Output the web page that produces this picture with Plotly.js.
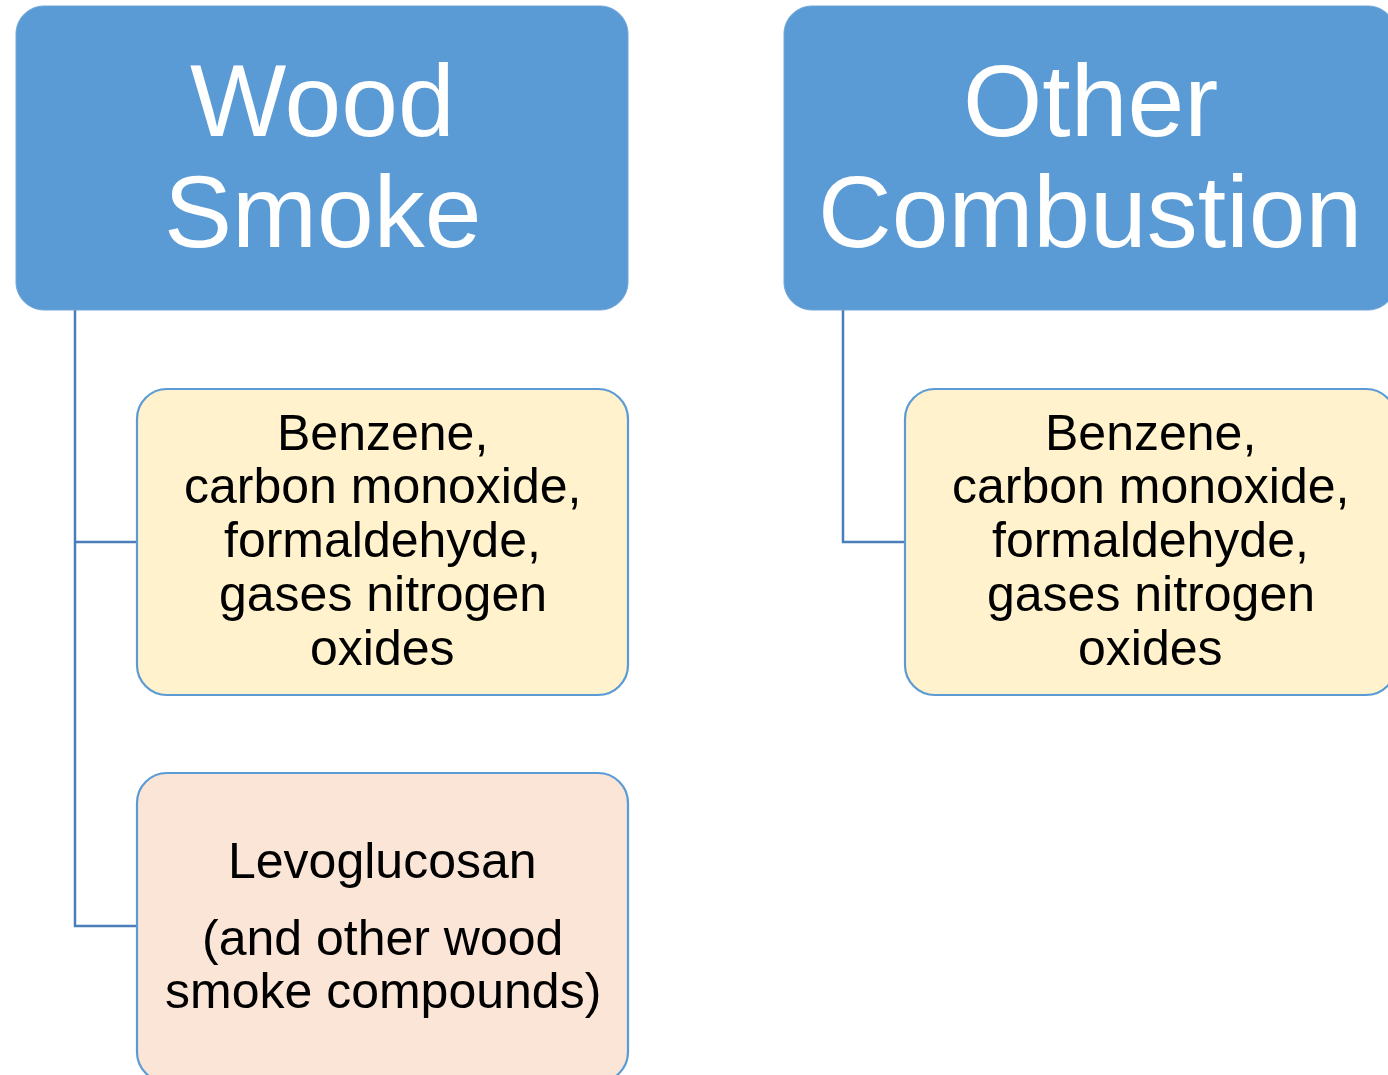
<!DOCTYPE html>
<html>
<head>
<meta charset="utf-8">
<script src="https://cdn.plot.ly/plotly-3.0.1.min.js"></script>
<style>html,body{margin:0;padding:0;background:#fff;}#chart{width:1388px;height:1075px;}</style>
</head>
<body>
<div id="chart"></div>
<script>
// ---- content ----
const headerLines = [["Wood", "Smoke"], ["Other", "Combustion"]];
const gasLines = ["Benzene,", "carbon monoxide,", "formaldehyde,", "gases nitrogen", "oxides"];
const woodOnlyLines = ["Levoglucosan", "(and other wood", "smoke compounds)"];

// ---- layout constants (pixels, y downward) ----
const W = 1388, H = 1075;
const colX = [16, 784];        // header left edges
const headW = 612, headTop = 6, headBot = 310;
const childOff = 121, childW = 491;
const child1Top = 389, child1Bot = 695;
const child2Top = 773, child2Bot = 1082;
const trunkOff = 59;

const headerFill = "#5b9bd5";
const lineColor = "#4a7ebb";
const childBorder = "#5b9bd5";
const gasFill = "#fff2cc";
const woodFill = "#fbe5d6";
const FONT = "Liberation Sans, Arial, sans-serif";
const HEAD_SIZE = 102, BODY_SIZE = 50;

function rr(x0, y0, x1, y1, r) {
  const k = 0.4477 * r;
  return `M${x0 + r},${y0} L${x1 - r},${y0} C${x1 - k},${y0} ${x1},${y0 + k} ${x1},${y0 + r} ` +
    `L${x1},${y1 - r} C${x1},${y1 - k} ${x1 - k},${y1} ${x1 - r},${y1} ` +
    `L${x0 + r},${y1} C${x0 + k},${y1} ${x0},${y1 - k} ${x0},${y1 - r} ` +
    `L${x0},${y0 + r} C${x0},${y0 + k} ${x0 + k},${y0} ${x0 + r},${y0} Z`;
}

const shapes = [];
const annotations = [];

function addLines(lines, cx, baselines, size, color) {
  lines.forEach((t, i) => {
    annotations.push({
      text: t, x: cx, y: baselines[i] - 0.35 * size, xref: "x", yref: "y",
      xanchor: "center", yanchor: "middle", showarrow: false,
      font: {family: FONT, size: size, color: color}
    });
  });
}

const bodyBase1 = [450, 503, 557, 611, 665];
const bodyBase2 = [878, 955, 1008];

colX.forEach((x0, c) => {
  const tx = x0 + trunkOff;
  const cx0 = x0 + childOff, cx1 = cx0 + childW;
  const midY = (child1Top + child1Bot) / 2;
  const endY = c === 0 ? 926 : midY;
  // connector lines
  shapes.push({type: "path", path: `M${tx},${headBot} L${tx},${endY} L${cx0},${endY}`,
    xref: "x", yref: "y", line: {color: lineColor, width: 2.5}, layer: "below"});
  if (c === 0) {
    shapes.push({type: "line", x0: tx, x1: cx0, y0: midY, y1: midY, xref: "x", yref: "y",
      line: {color: lineColor, width: 2.5}, layer: "below"});
  }
  // header box
  shapes.push({type: "path", path: rr(x0, headTop, x0 + headW, headBot, 28), xref: "x", yref: "y",
    fillcolor: headerFill, line: {color: "#6fa6da", width: 1}});
  addLines(headerLines[c], x0 + headW / 2, [137, 248], HEAD_SIZE, "#ffffff");
  // gases child
  shapes.push({type: "path", path: rr(cx0, child1Top, cx1, child1Bot, 30), xref: "x", yref: "y",
    fillcolor: gasFill, line: {color: childBorder, width: 2.2}});
  addLines(gasLines, (cx0 + cx1) / 2, bodyBase1, BODY_SIZE, "#000000");
  if (c === 0) {
    shapes.push({type: "path", path: rr(cx0, child2Top, cx1, child2Bot, 30), xref: "x", yref: "y",
      fillcolor: woodFill, line: {color: childBorder, width: 2.2}});
    addLines(woodOnlyLines, (cx0 + cx1) / 2, bodyBase2, BODY_SIZE, "#000000");
  }
});

const layout = {
  width: W, height: H,
  margin: {l: 0, r: 0, t: 0, b: 0},
  paper_bgcolor: "#ffffff", plot_bgcolor: "#ffffff",
  xaxis: {range: [0, W], visible: false, fixedrange: true},
  yaxis: {range: [H, 0], visible: false, fixedrange: true},
  showlegend: false,
  shapes: shapes,
  annotations: annotations
};

Plotly.newPlot("chart", [{x: [], y: [], type: "scatter", hoverinfo: "skip"}], layout, {staticPlot: true, displayModeBar: false});
</script>
</body>
</html>
